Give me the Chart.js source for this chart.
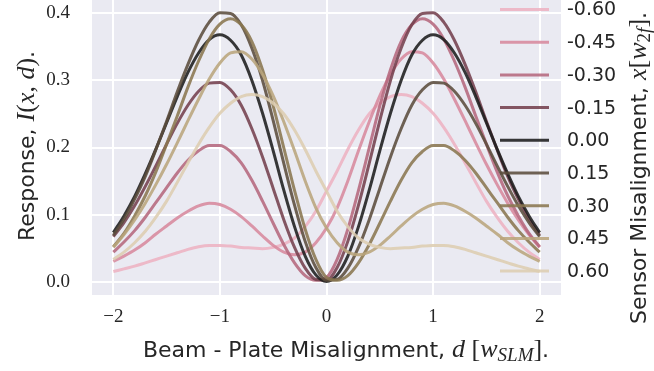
<!DOCTYPE html>
<html>
<head>
<meta charset="utf-8">
<script src="https://cdn.jsdelivr.net/npm/chart.js@4.4.0/dist/chart.umd.min.js"></script>
<style>
  html, body { margin: 0; padding: 0; background: #fff; }
  #wrap { width: 654px; height: 371px; }
</style>
</head>
<body>
<div id="wrap"><canvas id="chartLine" width="654" height="371"></canvas></div>
<script>
// beam - plate misalignment d, read every 0.1
const misalign = [-2.0, -1.9, -1.8, -1.7, -1.6, -1.5, -1.4, -1.3, -1.2, -1.1, -1.0, -0.9, -0.8, -0.7, -0.6, -0.5, -0.4, -0.3, -0.2, -0.1, 0.0,
  0.1, 0.2, 0.3, 0.4, 0.5, 0.6, 0.7, 0.8, 0.9, 1.0, 1.1, 1.2, 1.3, 1.4, 1.5, 1.6, 1.7, 1.8, 1.9, 2.0];

const sensorLabels = ["-0.60", "-0.45", "-0.30", "-0.15", "0.00", "0.15", "0.30", "0.45", "0.60"];
const lineColors = ["#EDB2C1", "#D7899D", "#B5687D", "#74404D", "#1C1C1C", "#5B4C3C", "#8A7650", "#BAA57C", "#DDCDB0"];

const respM060 = [0.015, 0.019, 0.023, 0.028, 0.033, 0.038, 0.043, 0.048, 0.052, 0.054, 0.054, 0.053, 0.051, 0.050, 0.049, 0.051, 0.056, 0.065, 0.082, 0.105, 0.135,
  0.165, 0.197, 0.226, 0.250, 0.266, 0.276, 0.279, 0.276, 0.266, 0.251, 0.230, 0.205, 0.177, 0.148, 0.120, 0.096, 0.075, 0.058, 0.044, 0.033];
const respM045 = [0.030, 0.038, 0.047, 0.058, 0.071, 0.083, 0.095, 0.105, 0.113, 0.117, 0.115, 0.108, 0.097, 0.083, 0.068, 0.054, 0.044, 0.040, 0.044, 0.058, 0.080,
  0.110, 0.150, 0.195, 0.238, 0.277, 0.309, 0.332, 0.343, 0.341, 0.326, 0.302, 0.272, 0.240, 0.207, 0.175, 0.145, 0.117, 0.092, 0.070, 0.051];
const respM030 = [0.044, 0.059, 0.076, 0.096, 0.118, 0.140, 0.162, 0.181, 0.195, 0.203, 0.203, 0.194, 0.177, 0.151, 0.120, 0.087, 0.055, 0.028, 0.009, 0.002, 0.006,
  0.033, 0.078, 0.136, 0.199, 0.262, 0.316, 0.358, 0.383, 0.392, 0.384, 0.362, 0.329, 0.290, 0.247, 0.205, 0.164, 0.128, 0.098, 0.072, 0.052];
const respM015 = [0.067, 0.088, 0.113, 0.142, 0.173, 0.205, 0.236, 0.263, 0.284, 0.296, 0.297, 0.286, 0.263, 0.228, 0.186, 0.139, 0.092, 0.051, 0.020, 0.003, 0.002,
  0.021, 0.060, 0.114, 0.176, 0.240, 0.300, 0.348, 0.383, 0.400, 0.401, 0.387, 0.360, 0.324, 0.283, 0.239, 0.197, 0.157, 0.123, 0.093, 0.069];
const resp000 = [0.073, 0.098, 0.127, 0.161, 0.198, 0.237, 0.276, 0.312, 0.341, 0.361, 0.368, 0.360, 0.338, 0.300, 0.251, 0.195, 0.136, 0.082, 0.038, 0.010, 0.000,
  0.010, 0.038, 0.082, 0.136, 0.195, 0.251, 0.300, 0.338, 0.360, 0.368, 0.361, 0.341, 0.312, 0.276, 0.237, 0.198, 0.161, 0.127, 0.098, 0.073];
const respP015 = [0.069, 0.093, 0.123, 0.157, 0.197, 0.239, 0.283, 0.324, 0.360, 0.387, 0.401, 0.400, 0.383, 0.348, 0.300, 0.240, 0.176, 0.114, 0.060, 0.021, 0.002,
  0.003, 0.020, 0.051, 0.092, 0.139, 0.186, 0.228, 0.263, 0.286, 0.297, 0.296, 0.284, 0.263, 0.236, 0.205, 0.173, 0.142, 0.113, 0.088, 0.067];
const respP030 = [0.052, 0.072, 0.098, 0.128, 0.164, 0.205, 0.247, 0.290, 0.329, 0.362, 0.384, 0.392, 0.383, 0.358, 0.316, 0.262, 0.199, 0.136, 0.078, 0.033, 0.006,
  0.002, 0.009, 0.028, 0.055, 0.087, 0.120, 0.151, 0.177, 0.194, 0.203, 0.203, 0.195, 0.181, 0.162, 0.140, 0.118, 0.096, 0.076, 0.059, 0.044];
const respP045 = [0.051, 0.070, 0.092, 0.117, 0.145, 0.175, 0.207, 0.240, 0.272, 0.302, 0.326, 0.341, 0.343, 0.332, 0.309, 0.277, 0.238, 0.195, 0.150, 0.110, 0.080,
  0.058, 0.044, 0.040, 0.044, 0.054, 0.068, 0.083, 0.097, 0.108, 0.115, 0.117, 0.113, 0.105, 0.095, 0.083, 0.071, 0.058, 0.047, 0.038, 0.030];
const respP060 = [0.033, 0.044, 0.058, 0.075, 0.096, 0.120, 0.148, 0.177, 0.205, 0.230, 0.251, 0.266, 0.276, 0.279, 0.276, 0.266, 0.250, 0.226, 0.197, 0.165, 0.135,
  0.105, 0.082, 0.065, 0.056, 0.051, 0.049, 0.050, 0.051, 0.053, 0.054, 0.054, 0.052, 0.048, 0.043, 0.038, 0.033, 0.028, 0.023, 0.019, 0.015];

const allResp = [respM060, respM045, respM030, respM015, resp000, respP015, respP030, respP045, respP060];

const TEXT = "#262626";
const SANS = "'DejaVu Sans', sans-serif";
const SERIF = "'Liberation Serif', serif";

function rgba(hex, a) {
  const n = parseInt(hex.slice(1), 16);
  return `rgba(${(n >> 16) & 255}, ${(n >> 8) & 255}, ${n & 255}, ${a})`;
}

// draw a run of text pieces (sans + math italic), optionally rotated
function richText(ctx, parts, x, y, rot) {
  ctx.save();
  ctx.translate(x, y);
  ctx.rotate(rot);
  let w = 0;
  parts.forEach(p => { ctx.font = p.f; p.w = ctx.measureText(p.t).width; w += p.w; });
  let cx = -w / 2;
  ctx.fillStyle = TEXT;
  ctx.textBaseline = "alphabetic";
  ctx.textAlign = "left";
  parts.forEach(p => { ctx.font = p.f; ctx.fillText(p.t, cx, p.dy || 0); cx += p.w; });
  ctx.restore();
}

const sansT = "22px " + SANS;
const mathIt = "italic 26px " + SERIF;
const mathRm = "26px " + SERIF;
const subIt = "italic 19px " + SERIF;
const subRm = "19px " + SERIF;

const decorations = {
  id: "decorations",
  afterLayout(chart) {
    // plot area runs up to the top edge of the figure
    const ys = chart.scales.y;
    ys.top = 0;
    ys.height = ys.bottom;
    ys.configure();
    chart.chartArea.top = 0;
    chart.chartArea.height = chart.chartArea.bottom;
  },
  beforeDraw(chart) {
    const { ctx, chartArea: a } = chart;
    ctx.save();
    ctx.fillStyle = "#EAEAF2";
    ctx.fillRect(a.left, a.top, a.right - a.left, a.bottom - a.top);
    ctx.restore();
  },
  afterDraw(chart) {
    const ctx = chart.ctx;
    // legend, drawn partly over the plot
    ctx.save();
    chart.data.datasets.forEach((ds, i) => {
      const y = 9.5 + i * 32.7;
      ctx.strokeStyle = ds.borderColor;
      ctx.lineWidth = 3;
      ctx.beginPath();
      ctx.moveTo(500, y);
      ctx.lineTo(549, y);
      ctx.stroke();
      ctx.fillStyle = TEXT;
      ctx.font = "19px " + SANS;
      ctx.textBaseline = "middle";
      ctx.textAlign = "left";
      ctx.fillText(sensorLabels[i], 567, y + 1);
    });
    ctx.restore();

    // x axis title
    richText(ctx, [
      { t: "Beam - Plate Misalignment, ", f: sansT },
      { t: "d", f: mathIt },
      { t: " [", f: mathRm },
      { t: "w", f: mathIt },
      { t: "SLM", f: subIt, dy: 4 },
      { t: "]", f: mathRm },
      { t: ".", f: sansT }
    ], 346, 357, 0);

    // y axis title
    richText(ctx, [
      { t: "Response, ", f: sansT },
      { t: "I", f: mathIt },
      { t: "(", f: mathRm },
      { t: "x", f: mathIt },
      { t: ", ", f: mathRm },
      { t: "d", f: mathIt },
      { t: ")", f: mathRm },
      { t: ".", f: sansT }
    ], 34, 146, -Math.PI / 2);

    // legend title on the right
    richText(ctx, [
      { t: "Sensor Misalignment, ", f: sansT },
      { t: "x", f: mathIt },
      { t: "[", f: mathRm },
      { t: "w", f: mathIt },
      { t: "2", f: subRm, dy: 4 },
      { t: "f", f: subIt, dy: 4 },
      { t: "]", f: mathRm },
      { t: ".", f: sansT }
    ], 646, 168, -Math.PI / 2);
  }
};

const data = {
  datasets: allResp.map((vals, i) => ({
    label: sensorLabels[i],
    data: misalign.map((d, k) => ({ x: d, y: vals[k] })),
    borderColor: rgba(lineColors[i], 0.88),
    borderWidth: 3,
    pointRadius: 0,
    fill: false,
    cubicInterpolationMode: "monotone",
    order: -i
  }))
};

const config = {
  type: "line",
  data,
  plugins: [decorations],
  options: {
    responsive: false,
    animation: false,
    devicePixelRatio: 1,
    layout: { autoPadding: false, padding: { left: 0, top: 0, right: 93, bottom: 0 } },
    plugins: { legend: { display: false }, tooltip: { enabled: false } },
    scales: {
      x: {
        type: "linear",
        min: -2.2,
        max: 2.2,
        afterFit(scale) { scale.height = 76; },
        border: { display: false },
        grid: { color: "#FFFFFF", lineWidth: 2, drawTicks: false },
        ticks: {
          stepSize: 1,
          includeBounds: false,
          padding: 11,
          color: TEXT,
          font: { family: SERIF, size: 19 },
          callback: v => String(v).replace("-", "\u2212")
        }
      },
      y: {
        type: "linear",
        min: -0.02,
        max: 0.42,
        afterFit(scale) { scale.width = 92; },
        border: { display: false },
        grid: { color: "#FFFFFF", lineWidth: 2, drawTicks: false },
        ticks: {
          stepSize: 0.1,
          includeBounds: false,
          padding: 22,
          color: TEXT,
          font: { family: SERIF, size: 19 },
          callback: v => Number(v).toFixed(1)
        }
      }
    }
  }
};

var chartLine = new Chart(document.getElementById("chartLine"), config);
</script>
</body>
</html>
